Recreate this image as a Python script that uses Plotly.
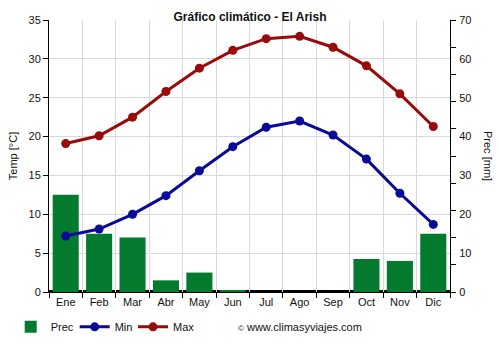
import plotly.graph_objects as go

months = ["Ene", "Feb", "Mar", "Abr", "May", "Jun", "Jul", "Ago", "Sep", "Oct", "Nov", "Dic"]
prec = [25, 15, 14, 3, 5, 0.4, 0, 0, 0, 8.5, 8, 15]
t_min = [7.2, 8.1, 10.0, 12.4, 15.6, 18.7, 21.2, 22.0, 20.2, 17.1, 12.7, 8.7]
t_max = [19.1, 20.1, 22.5, 25.8, 28.8, 31.1, 32.6, 32.9, 31.5, 29.1, 25.5, 21.3]

prec_labels = [0, 10, 20, 30, 40, 50, 60, 70]
prec_marks = [0, 7, 14, 21, 28, 35, 42, 49, 56, 63, 70]

xs = list(range(len(months)))
bounds = [i - 0.5 for i in range(len(months) + 1)]
font = "Liberation Sans, Arial, sans-serif"

fig = go.Figure()
fig.add_trace(go.Bar(x=xs, y=prec, name="Prec", marker=dict(color="#047a2f", line=dict(width=0)),
                     width=0.78, yaxis="y", legend="legend"))
fig.add_trace(go.Scatter(x=xs, y=t_min, name="Min", mode="lines+markers",
                         line=dict(color="#0a0a9a", width=3), marker=dict(size=9, color="#0a0a9a"),
                         yaxis="y2", legend="legend2"))
fig.add_trace(go.Scatter(x=xs, y=t_max, name="Max", mode="lines+markers",
                         line=dict(color="#990a0a", width=3), marker=dict(size=9, color="#990a0a"),
                         yaxis="y2", legend="legend3"))

# heavy base line under the bars
fig.add_shape(type="line", xref="x", yref="y", x0=-0.5, x1=11.5, y0=0, y1=0,
              line=dict(color="black", width=4), layer="below")

legend_common = dict(orientation="h", xanchor="left", y=-0.128, yanchor="middle",
                     font=dict(size=11), itemwidth=30, bgcolor="rgba(0,0,0,0)")

fig.update_layout(
    width=500, height=350,
    margin=dict(l=49, r=50, t=20, b=58, autoexpand=False),
    paper_bgcolor="white", plot_bgcolor="white",
    font=dict(family=font, size=11, color="#111"),
    title=dict(text="<b>Gráfico climático - El Arish</b>", x=0.5, xanchor="center",
               y=1 - 17 / 350, yanchor="middle", font=dict(size=12, color="#111")),
    showlegend=True,
    legend=dict(x=-0.0955, **legend_common),
    legend2=dict(x=0.0641, **legend_common),
    legend3=dict(x=0.2095, **legend_common),
    xaxis=dict(range=[-0.5, 11.5], tickmode="array", tickvals=xs, ticktext=months,
               showgrid=False, ticks="", showline=True, linecolor="black", linewidth=1,
               zeroline=False, fixedrange=True,
               minor=dict(tickmode="array", tickvals=bounds, ticks="outside", ticklen=5,
                          tickcolor="black", showgrid=True, gridcolor="#d9d9d9", gridwidth=1)),
    yaxis=dict(range=[0, 70], tickmode="array", tickvals=prec_labels, side="right",
               showgrid=False, zeroline=False, showline=True, linecolor="black",
               ticks="", ticklabelstandoff=6,
               minor=dict(tickmode="array", tickvals=prec_marks, ticks="outside", ticklen=5,
                          tickcolor="black", showgrid=False)),
    yaxis2=dict(range=[0, 35], dtick=5, side="left", overlaying="y", showgrid=True,
                gridcolor="#d9d9d9", zeroline=False, showline=True, linecolor="black",
                ticks="outside", ticklen=5, tickcolor="black",
                title=dict(text="Temp [°C]", standoff=8, font=dict(size=11))),
)

fig.add_annotation(text="Prec [mm]", xref="paper", yref="paper", x=1 + 38 / 401, y=0.5,
                   textangle=90, showarrow=False, font=dict(size=11), xanchor="center")
fig.add_annotation(text="<span style='font-size:8px'>©</span> www.climasyviajes.com",
                   xref="paper", yref="paper",
                   x=(236 - 49) / 401, y=-35 / 272, xanchor="left", yanchor="middle",
                   showarrow=False, font=dict(size=11))

fig.write_html("out.html")
